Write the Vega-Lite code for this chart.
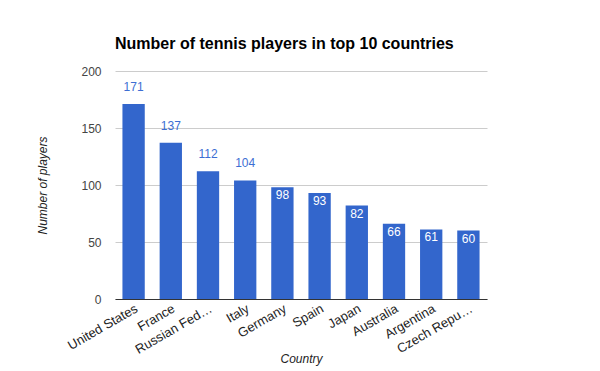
{
  "$schema": "https://vega.github.io/schema/vega-lite/v6.json",
  "width": 372,
  "height": 228,
  "autosize": "none",
  "padding": {"left": 115, "top": 71, "right": 113, "bottom": 72},
  "background": "white",
  "title": {
    "text": "Number of tennis players in top 10 countries",
    "anchor": "start",
    "frame": "group",
    "offset": 13,
    "font": "Liberation Sans",
    "fontSize": 16,
    "fontWeight": "bold",
    "color": "#000000"
  },
  "config": {
    "view": {"stroke": null},
    "font": "Liberation Sans"
  },
  "data": {
    "values": [
      {"country": "United States", "players": 171},
      {"country": "France", "players": 137},
      {"country": "Russian Federation", "players": 112},
      {"country": "Italy", "players": 104},
      {"country": "Germany", "players": 98},
      {"country": "Spain", "players": 93},
      {"country": "Japan", "players": 82},
      {"country": "Australia", "players": 66},
      {"country": "Argentina", "players": 61},
      {"country": "Czech Republic", "players": 60}
    ]
  },
  "encoding": {
    "x": {
      "field": "country",
      "type": "nominal",
      "sort": null,
      "scale": {"paddingInner": 0.4, "paddingOuter": 0.2},
      "axis": {
        "title": "Country",
        "titleFont": "Liberation Sans",
        "titleFontSize": 12,
        "titleFontStyle": "italic",
        "titleFontWeight": "normal",
        "titleColor": "#222222",
        "titleY": 59,
        "titleBaseline": "middle",
        "labelAngle": -30,
        "labelAlign": "right",
        "labelBaseline": "top",
        "labelFontSize": 13,
        "labelColor": "#222222",
        "labelPadding": 3,
        "labelLimit": 200,
        "labelExpr": "datum.label == 'Russian Federation' ? 'Russian Fed…' : datum.label == 'Czech Republic' ? 'Czech Repu…' : datum.label",
        "ticks": false,
        "domainColor": "#333333",
        "domainWidth": 1,
        "grid": false
      }
    },
    "y": {
      "field": "players",
      "type": "quantitative",
      "scale": {"domain": [0, 200]},
      "axis": {
        "title": "Number of players",
        "titleFont": "Liberation Sans",
        "titleFontSize": 12,
        "titleFontStyle": "italic",
        "titleFontWeight": "normal",
        "titleColor": "#222222",
        "titleX": -73,
        "titleY": 114,
        "titleAlign": "center",
        "titleBaseline": "middle",
        "titleAngle": -90,
        "values": [0, 50, 100, 150, 200],
        "labelFontSize": 12,
        "labelColor": "#444444",
        "labelPadding": 14,
        "ticks": false,
        "domain": false,
        "gridColor": "#cccccc",
        "gridWidth": 1
      }
    }
  },
  "layer": [
    {"mark": {"type": "bar", "color": "#3366cc"}},
    {
      "transform": [{"filter": "datum.players > 100"}],
      "mark": {"type": "text", "dy": -17, "baseline": "middle", "fontSize": 12, "color": "#3d6ed3"},
      "encoding": {"text": {"field": "players", "type": "quantitative"}}
    },
    {
      "transform": [{"filter": "datum.players <= 100"}],
      "mark": {"type": "text", "dy": 8, "baseline": "middle", "fontSize": 12, "color": "#ffffff"},
      "encoding": {"text": {"field": "players", "type": "quantitative"}}
    }
  ]
}
